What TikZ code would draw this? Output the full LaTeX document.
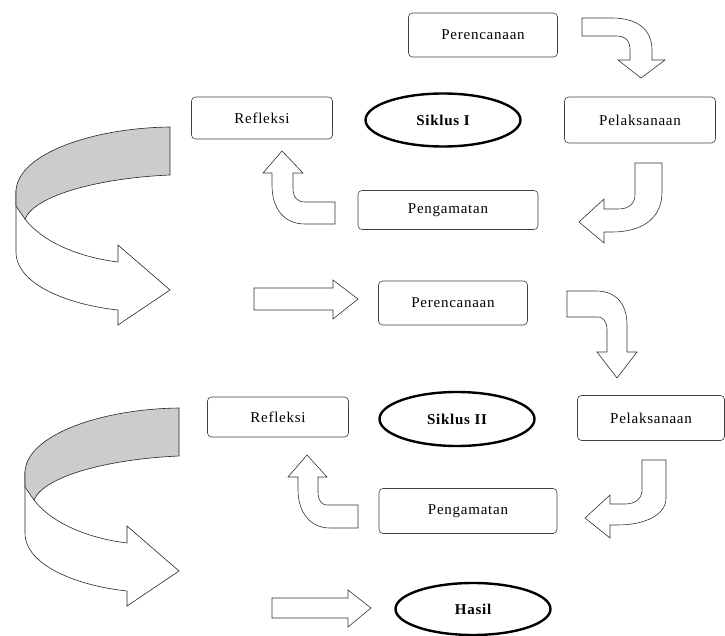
\documentclass[tikz,border=0pt]{standalone}
\usepackage{fontspec}
\setmainfont{Liberation Serif}[LetterSpace=5]
\usepackage{tikz}
\usetikzlibrary{shapes.geometric}

\tikzset{
  stage/.style={draw=black!75, line width=0.6pt, rounded corners=4pt, fill=white,
    inner sep=0pt, font=\fontsize{15}{17}\selectfont},
  siklus/.style={draw=black, ellipse, line width=2.4pt, inner sep=0pt,
    minimum width=155pt, minimum height=53pt, font=\bfseries\fontsize{15}{17}\selectfont},
  blockarrow/.style={draw=black!80, line width=0.6pt, fill=white, line join=miter},
  ribbon/.style={draw=black!85, line width=0.6pt},
}

\begin{document}
\begin{tikzpicture}[x=1pt, y=-1pt]
    \useasboundingbox (0,0) rectangle (725,636);

    % siklus I
    \node[stage, minimum width=149pt, minimum height=44pt] (plan1) at (483,35) {Perencanaan};
    \node[stage, minimum width=141pt, minimum height=42pt] (refl1) at (262,118) {Refleksi};
    \node[siklus] (cyc1) at (443,120) {Siklus I};
    \node[stage, minimum width=151pt, minimum height=46pt] (act1) at (640,120) {Pelaksanaan};
    \node[stage, minimum width=180pt, minimum height=39pt] (obs1) at (448,210) {Pengamatan};

    % siklus II
    \node[stage, minimum width=149pt, minimum height=44pt] (plan2) at (453,303) {Perencanaan};
    \node[stage, minimum width=141pt, minimum height=40pt] (refl2) at (278,417) {Refleksi};
    \node[siklus, minimum height=54pt] (cyc2) at (457,419) {Siklus II};
    \node[stage, minimum width=147pt, minimum height=45pt] (act2) at (651,418) {Pelaksanaan};
    \node[stage, minimum width=178pt, minimum height=45pt] (obs2) at (468,511) {Pengamatan};

    % hasil
    \node[siklus, minimum height=52pt] (result) at (473,609) {Hasil};

    % bent arrows, siklus I
    \draw[blockarrow] (582,18) -- (612,18) .. controls (638,18) and (652,30) .. (652,50)
        -- (652,60) -- (665,60) -- (641,78) -- (618,60) -- (630,60) -- (630,50)
        .. controls (630,41) and (626,36) .. (616,36) -- (582,36) -- cycle;
    \draw[blockarrow] (635,163) -- (662,163) -- (662,192) .. controls (662,220) and (640,232) .. (612,232)
        -- (604,232) -- (604,243) -- (579,222) -- (604,199) -- (604,209) -- (618,209)
        .. controls (630,209) and (635,203) .. (635,194) -- cycle;
    \draw[blockarrow] (335,202) -- (305,202) .. controls (297,202) and (293,197) .. (293,188)
        -- (293,173) -- (303,173) -- (282,151) -- (263,173) -- (272,173) -- (272,185)
        .. controls (272,210) and (285,224) .. (305,224) -- (335,224) -- cycle;

    % bent arrows, siklus II
    \draw[blockarrow] (567,291) -- (596,291) .. controls (617,291) and (627,305) .. (627,325)
        -- (627,352) -- (637,352) -- (617,378) -- (597,352) -- (607,352) -- (607,330)
        .. controls (607,322) and (604,317) .. (597,317) -- (567,317) -- cycle;
    \draw[blockarrow] (642,460) -- (666,460) -- (666,498) .. controls (666,515) and (645,525) .. (617,525)
        -- (610,525) -- (610,538) -- (585,518) -- (610,495) -- (610,504) -- (625,504)
        .. controls (636,504) and (642,498) .. (642,490) -- cycle;
    \draw[blockarrow] (358,505) -- (328,505) .. controls (321,505) and (318,500) .. (318,492)
        -- (318,477) -- (327,477) -- (307,455) -- (288,477) -- (298,477) -- (298,490)
        .. controls (298,512) and (310,528) .. (330,528) -- (358,528) -- cycle;

    % straight arrows
    \draw[blockarrow] (254,288) -- (333,288) -- (333,280) -- (358,299) -- (333,319) -- (333,310) -- (254,310) -- cycle;
    \draw[blockarrow] (272,598) -- (348,598) -- (348,590) -- (371,608) -- (348,627) -- (348,618) -- (272,618) -- cycle;

    % big turning ribbons
    \foreach \dx/\dy in {0/0, 9/281} {
        \begin{scope}[shift={(\dx,\dy)}]
            \draw[ribbon, fill=white] (16,192) -- (16,252) .. controls (16,285) and (70,305) .. (118,310)
                -- (118,325) -- (170,290) -- (118,245) -- (118,262)
                .. controls (85,258) and (45,245) .. (25,219) -- cycle;
            \draw[ribbon, fill=black!20] (170,127) .. controls (90,128) and (16,155) .. (16,192)
                -- (16,206) -- (25,219) .. controls (35,195) and (100,178) .. (170,175) -- cycle;
        \end{scope}
    }
\end{tikzpicture}
\end{document}
